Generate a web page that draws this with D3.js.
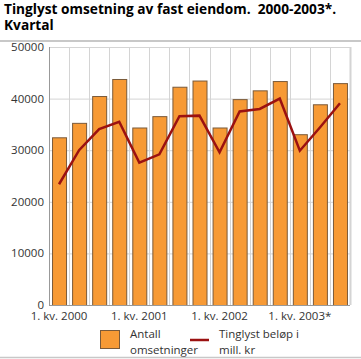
<!DOCTYPE html>
<html><head><meta charset="utf-8">
<script src="https://cdn.jsdelivr.net/npm/d3@7"></script>
<style>body{margin:0;background:#fff;} svg{display:block;font-family:"Open Sans",sans-serif;} .t{white-space:pre;}</style>
</head><body>
<script>
const quarters = ["2000K1","2000K2","2000K3","2000K4","2001K1","2001K2","2001K3","2001K4","2002K1","2002K2","2002K3","2002K4","2003K1","2003K2","2003K3"];
const antall = [32500,35300,40500,43800,34400,36600,42300,43500,34400,39900,41600,43400,33100,38900,43000];
const belop = [23400,30000,34100,35500,27600,29200,36600,36700,29600,37500,38000,40000,29900,34400,39100];
const xTickLabels = {"2000K1":"1. kv. 2000","2001K1":"1. kv. 2001","2002K1":"1. kv. 2002","2003K1":"1. kv. 2003*"};
const yTicks = [0,10000,20000,30000,40000,50000];

const W=361,H=359;
const svg=d3.select("body").append("svg").attr("width",W).attr("height",H);
const m={l:49,r:11,t:47,b:54};
const xg=d3.scaleBand().domain(quarters).range([m.l,W-m.r]);
const y=d3.scaleLinear().domain([0,50000]).range([H-m.b,m.t]);

svg.append("text").attr("class","t").attr("x",4).attr("y",14).attr("font-size",13.7).attr("font-weight","bold").attr("fill","#000").text("Tinglyst omsetning av fast eiendom.  2000-2003*.");
svg.append("text").attr("x",4).attr("y",30).attr("font-size",13.7).attr("font-weight","bold").attr("fill","#000").text("Kvartal");
svg.append("line").attr("x1",0).attr("x2",W).attr("y1",41).attr("y2",41).attr("stroke","#c8c8c8").attr("stroke-width",2);

// grid
const g=svg.append("g");
g.selectAll(".hg").data(yTicks).join("line").attr("x1",m.l).attr("x2",W-m.r).attr("y1",d=>y(d)+0.5).attr("y2",d=>y(d)+0.5).attr("stroke","#d4d4d4");
const bounds=quarters.map(q=>xg(q)).concat([W-m.r]);
g.selectAll(".vg").data(bounds).join("line").attr("x1",d=>Math.round(d)+0.5).attr("x2",d=>Math.round(d)+0.5).attr("y1",m.t).attr("y2",H-m.b).attr("stroke",(d,i)=>i==0?"#999":"#d4d4d4").attr("stroke-width",(d,i)=>i==bounds.length-1?2:1);

// y labels
svg.selectAll(".yl").data(yTicks).join("text").attr("x",44).attr("y",d=>y(d)+4).attr("text-anchor","end").attr("font-size",11.5).attr("fill","#333").text(d=>d);

// bars
const bw=14;
svg.selectAll(".bar").data(antall).join("rect")
 .attr("x",(d,i)=>xg(quarters[i])+xg.bandwidth()/2-bw/2+0.5).attr("width",bw)
 .attr("y",d=>y(d)+0.5).attr("height",d=>y(0)-y(d))
 .attr("fill","#f79a35").attr("stroke","#7a5a3a").attr("stroke-width",1);
svg.append("line").attr("x1",m.l).attr("x2",W-m.r).attr("y1",y(0)+0.5).attr("y2",y(0)+0.5).attr("stroke","#999");

// line
const line=d3.line().x((d,i)=>xg(quarters[i])+xg.bandwidth()/2).y(d=>y(d));
svg.append("path").datum(belop).attr("d",line).attr("fill","none").attr("stroke","#9b1111").attr("stroke-width",2.5).attr("stroke-linejoin","miter");

// x labels
svg.selectAll(".xl").data(quarters.filter(q=>xTickLabels[q])).join("text")
 .attr("x",q=>xg(q)+xg.bandwidth()/2).attr("y",H-m.b+15).attr("text-anchor","middle").attr("font-size",11.5).attr("fill","#333").text(q=>xTickLabels[q]);

// legend
svg.append("rect").attr("x",100.5).attr("y",330.5).attr("width",19).attr("height",18).attr("fill","#f79a35").attr("stroke","#7a5a3a");
svg.append("text").attr("x",130).attr("y",338).attr("font-size",11.5).attr("fill","#333").text("Antall");
svg.append("text").attr("x",130).attr("y",354).attr("font-size",11.5).attr("fill","#333").text("omsetninger");
svg.append("line").attr("x1",190).attr("x2",209).attr("y1",340).attr("y2",340).attr("stroke","#9b1111").attr("stroke-width",2.5);
svg.append("text").attr("x",219).attr("y",338).attr("font-size",11.5).attr("fill","#333").text("Tinglyst beløp i");
svg.append("text").attr("x",219).attr("y",354).attr("font-size",11.5).attr("fill","#333").text("mill. kr");
svg.append("line").attr("x1",0).attr("x2",W).attr("y1",357.5).attr("y2",357.5).attr("stroke","#c8c8c8").attr("stroke-width",1.5);
</script>
</body></html>
